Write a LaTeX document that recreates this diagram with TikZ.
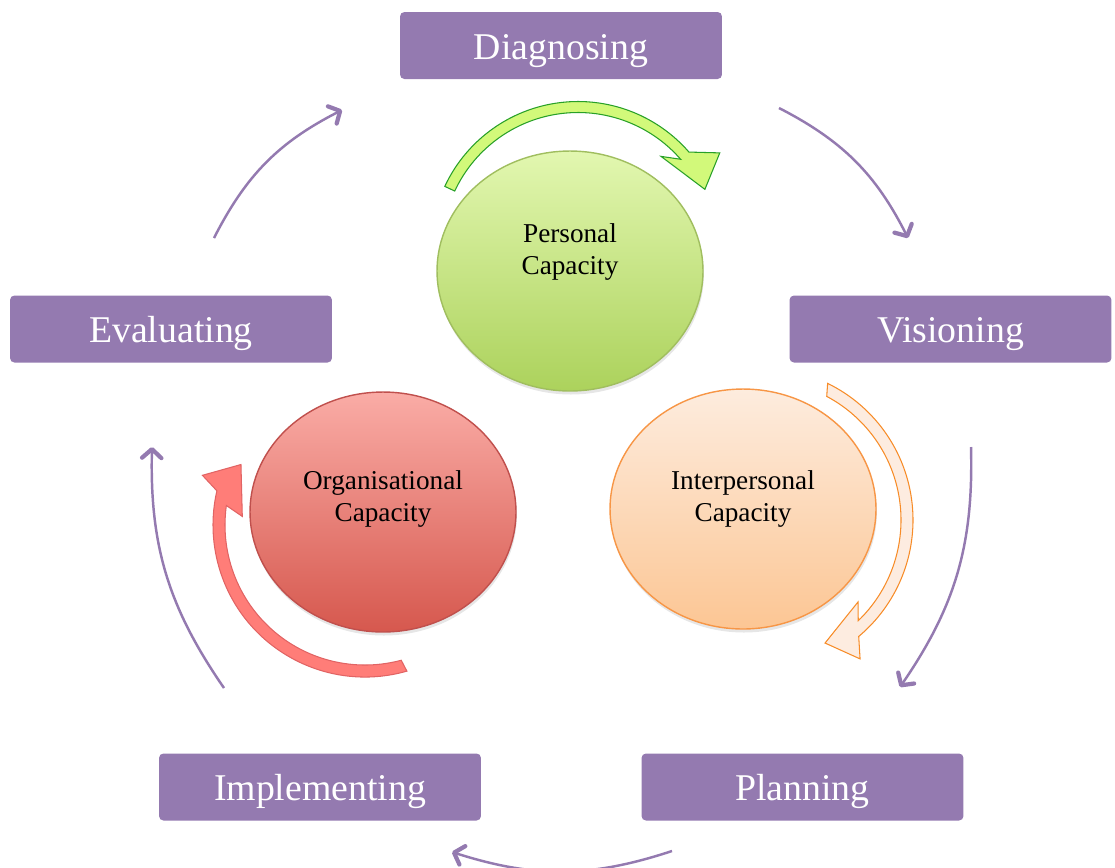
\documentclass[tikz,border=0pt]{standalone}
\usepackage{fontspec}
\setmainfont{Liberation Serif}
\usetikzlibrary{shapes.geometric}
\usetikzlibrary{shadows}
\usetikzlibrary{arrows.meta}
\definecolor{stagepurple}{RGB}{148,122,176}
\definecolor{persTop}{RGB}{226,247,176}
\definecolor{persBot}{RGB}{172,210,92}
\definecolor{persEdge}{RGB}{160,190,95}
\definecolor{orgTop}{RGB}{250,172,166}
\definecolor{orgBot}{RGB}{214,88,78}
\definecolor{orgEdge}{RGB}{192,80,77}
\definecolor{intTop}{RGB}{253,236,222}
\definecolor{intBot}{RGB}{252,198,148}
\definecolor{intEdge}{RGB}{247,150,70}
\definecolor{greenFill}{RGB}{210,249,122}
\definecolor{greenEdge}{RGB}{40,160,40}
\definecolor{redFill}{RGB}{255,125,120}
\definecolor{redEdge}{RGB}{225,100,100}
\definecolor{orangeFill}{RGB}{253,236,224}
\definecolor{orangeEdge}{RGB}{247,140,40}
\tikzstyle{stage}=[rectangle,rounded corners=2.5pt,fill=stagepurple,text=white,minimum width=6.44cm,minimum height=1.34cm,inner sep=0pt,text height=15.5pt,text depth=0pt,font=\fontsize{21.5}{25}\selectfont]
\tikzstyle{capacity}=[ellipse,minimum width=5.32cm,minimum height=4.8cm,inner sep=0pt,line width=0.8pt,shading=axis,drop shadow={opacity=0.2,shadow xshift=0.5pt,shadow yshift=-2pt}]
\tikzstyle{flow}=[draw=stagepurple,line width=1.4pt,-{Straight Barb[length=5pt,width=11pt,line width=2.4pt,round]},bend left=18]
\tikzstyle{band}=[line width=0.6pt,line join=miter]

\begin{document}
\begin{tikzpicture}[x=0.02cm,y=-0.02cm]
  \useasboundingbox (0,0) rectangle (1115,867);

  % stages of the cycle
  \foreach \x/\y/\name/\label in {561/45.5/diag/Diagnosing, 950.5/329/vis/Visioning, 802.5/787/plan/Planning, 320/787/impl/Implementing, 171/329/eval/Evaluating}
    \node[stage] (\name) at (\x,\y) {\label};

  % the three capacities
  \foreach \x/\y/\name/\top/\bot/\edge/\up/\label in {570/271/pers/persTop/persBot/persEdge/0.38/{Personal\\Capacity}, 383/512/org/orgTop/orgBot/orgEdge/0.26/{Organisational\\Capacity}, 743/509/inter/intTop/intBot/intEdge/0.20/{Interpersonal\\Capacity}}
    \node[capacity,draw=\edge,top color=\top,bottom color=\bot,label={[align=center,font=\fontsize{15.5}{18}\selectfont,yshift=\up cm]center:\label}] (\name) at (\x,\y) {};

  % outer arrows
  \coordinate (a1) at (779,108);  \coordinate (a2) at (908,238);
  \coordinate (b1) at (971,447);  \coordinate (b2) at (900,687);
  \coordinate (c1) at (672,851);  \coordinate (c2) at (452,852);
  \coordinate (e1) at (224,688);  \coordinate (e2) at (152,447);
  \coordinate (f1) at (214,238);  \coordinate (f2) at (342,110);
  \foreach \source/\dest in {a1/a2, b1/b2, c1/c2, e1/e2, f1/f2}
    \draw[flow] (\source) to (\dest);

  % curved block arrows
  \begin{scope}[shift={(578,248.5)}]
    \draw[band,fill=greenFill,draw=greenEdge] (205:147) arc[start angle=205,end angle=319,radius=147]
      -- (326:171) -- (335:140) -- (312:124) -- (319:136)
      arc[start angle=319,end angle=205,radius=136] -- cycle;
  \end{scope}
  \begin{scope}[shift={(365,525)}]
    \draw[band,fill=redFill,draw=redEdge] (74:152) arc[start angle=74,end angle=193,radius=152]
      -- (197:170) -- (206:138) -- (184:123) -- (188:140)
      arc[start angle=188,end angle=75,radius=140] -- cycle;
  \end{scope}
  \begin{scope}[shift={(761,520)}]
    \draw[band,fill=orangeFill,draw=orangeEdge] (296:152) arc[start angle=296,end angle=410,radius=152]
      -- (414.5:170.6) -- (422.5:138.7) -- (400.2:127) -- (406:140)
      arc[start angle=406,end angle=298,radius=140] -- cycle;
  \end{scope}

\end{tikzpicture}
\end{document}
